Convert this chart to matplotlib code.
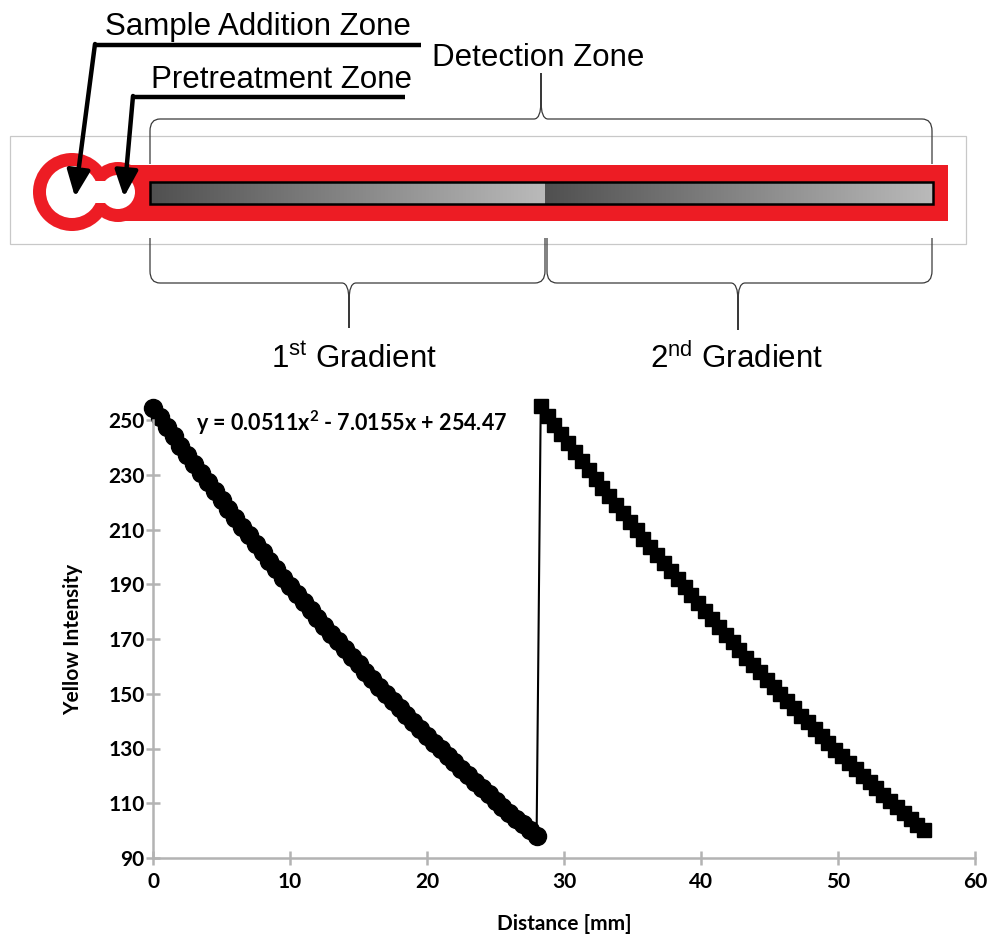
import numpy as np
import matplotlib.pyplot as plt
from matplotlib.patches import Rectangle, Circle, PathPatch
from matplotlib.path import Path
from matplotlib.colors import LinearSegmentedColormap

plt.rcParams['mathtext.fontset'] = 'custom'
plt.rcParams['mathtext.rm'] = 'Liberation Sans'
plt.rcParams['mathtext.bf'] = 'Lato:bold'

# Yellow intensity along the strip, sampled every 0.5 mm
dist_1 = np.arange(0, 28.01, 0.5)
yellow_1 = [254.5, 251.0, 247.5, 244.1, 240.6, 237.3, 233.9, 230.5, 227.2, 223.9,
            220.7, 217.4, 214.2, 211.0, 207.9, 204.7, 201.6, 198.5, 195.5, 192.4,
            189.4, 186.4, 183.5, 180.6, 177.6, 174.8, 171.9, 169.1, 166.3, 163.5,
            160.7, 158.0, 155.3, 152.6, 150.0, 147.4, 144.8, 142.2, 139.6, 137.1,
            134.6, 132.1, 129.7, 127.3, 124.9, 122.5, 120.2, 117.8, 115.5, 113.3,
            111.0, 108.8, 106.6, 104.4, 102.3, 100.2, 98.1]
dist_2 = np.arange(28.3, 56.31, 0.5)
yellow_2 = [255.0, 251.6, 248.2, 244.9, 241.5, 238.3, 235.0, 231.7, 228.5, 225.3,
            222.2, 219.0, 215.9, 212.8, 209.8, 206.7, 203.7, 200.7, 197.8, 194.8,
            191.9, 188.9, 186.0, 183.1, 180.1, 177.3, 174.4, 171.6, 168.8, 166.0,
            163.2, 160.5, 157.8, 155.1, 152.5, 149.9, 147.3, 144.7, 142.0, 139.5,
            137.0, 134.5, 132.0, 129.6, 127.2, 124.8, 122.4, 120.0, 117.7, 115.5,
            113.1, 110.9, 108.7, 106.4, 104.3, 102.2, 100.1]
fit_label = r'y = 0.0511x$^{\mathbf{2}}$ - 7.0155x + 254.47'
x_ticks = [0, 10, 20, 30, 40, 50, 60]
y_ticks = [90, 110, 130, 150, 170, 190, 210, 230, 250]

fig = plt.figure(figsize=(9.9, 9.41), dpi=100)

# ---------- strip diagram (pixel-like coordinates) ----------
ax_d = fig.add_axes([0, 0, 1, 1])
ax_d.axis('off')

red = '#ed1c24'
ax_d.add_patch(Rectangle((10, 136), 956, 108, fill=False, ec='#c8c8c8', lw=0.9))
ax_d.add_patch(Circle((72, 192), 39, color=red, lw=0))
ax_d.add_patch(Circle((118, 192), 30, color=red, lw=0))
ax_d.add_patch(Rectangle((112, 165), 836, 56, color=red, lw=0))
ax_d.add_patch(Circle((72, 192), 26, color='white', lw=0))
ax_d.add_patch(Circle((118, 192), 17, color='white', lw=0))
ax_d.add_patch(Rectangle((88, 181), 24, 22, color='white', lw=0))

grey_ramp = LinearSegmentedColormap.from_list('ramp', ['#505050', '#bababa'])
ramp = np.linspace(0, 1, 256).reshape(1, -1)
ax_d.imshow(ramp, cmap=grey_ramp, extent=(150, 545, 204, 182), aspect='auto', zorder=3)
ax_d.imshow(ramp, cmap=grey_ramp, extent=(545, 933, 204, 182), aspect='auto', zorder=3)
ax_d.add_patch(Rectangle((150, 182), 783, 22, fill=False, ec='black', lw=1.8, zorder=4))
ax_d.set_xlim(0, 990)
ax_d.set_ylim(941, 0)


def brace(x0, x1, y_line, y_end, x_tip, y_tip):
    s = np.sign(y_end - y_line)
    t = -s
    verts = [(x0, y_end), (x0, y_line + s * 12), (x0, y_line), (x0 + 10, y_line),
             (x_tip - 7, y_line), (x_tip, y_line), (x_tip, y_line + t * 18),
             (x_tip, y_tip), (x_tip, y_line + t * 18), (x_tip, y_line), (x_tip + 7, y_line),
             (x1 - 10, y_line), (x1, y_line), (x1, y_line + s * 12), (x1, y_end)]
    codes = [Path.MOVETO, Path.LINETO, Path.CURVE3, Path.CURVE3,
             Path.LINETO, Path.CURVE3, Path.CURVE3,
             Path.LINETO, Path.LINETO, Path.CURVE3, Path.CURVE3,
             Path.LINETO, Path.CURVE3, Path.CURVE3, Path.LINETO]
    ax_d.add_patch(PathPatch(Path(verts, codes), fill=False, ec='#3a3a3a', lw=0.9))


brace(150, 932, 119, 164, 541, 73)
brace(150, 545, 283, 238, 349, 328)
brace(547, 932, 283, 238, 738, 330)

label_font = dict(family='Liberation Sans', fontsize=22.5, color='black')
ax_d.text(105, 35, 'Sample Addition Zone', ha='left', va='baseline', **label_font)
ax_d.text(151, 88, 'Pretreatment Zone', ha='left', va='baseline', **label_font)
ax_d.text(432, 66, 'Detection Zone', ha='left', va='baseline', **label_font)
ax_d.text(354, 368, r'1$^{\mathrm{st}}$ Gradient', ha='center', va='baseline', **label_font)
ax_d.text(737, 368, r'2$^{\mathrm{nd}}$ Gradient', ha='center', va='baseline', **label_font)

ax_d.plot([95, 421], [45, 45], color='black', lw=3.2, solid_capstyle='butt')
ax_d.plot([133, 405], [97, 97], color='black', lw=3.2, solid_capstyle='butt')
arrow = dict(arrowstyle='-|>,head_length=1.6,head_width=0.7', lw=3.2, color='black',
             shrinkA=0, shrinkB=0)
ax_d.annotate('', xy=(75, 197), xytext=(95, 44), arrowprops=arrow)
ax_d.annotate('', xy=(124, 197), xytext=(133, 96), arrowprops=arrow)

# ---------- intensity profile ----------
ax = fig.add_axes([153 / 990, 83 / 941, 822 / 990, 438 / 941])
ax.plot([dist_1[-1], dist_2[0]], [yellow_1[-1], yellow_2[0]], color='black', lw=1.5,
        clip_on=False)
ax.plot(dist_1, yellow_1, 'o', color='black', ms=13, clip_on=False)
ax.plot(dist_2, yellow_2, 's', color='black', ms=10.5, clip_on=False)

ax.set_xlim(0, 60)
ax.set_ylim(90, 250)
ax.set_xticks(x_ticks)
ax.set_yticks(y_ticks)
for side in ['top', 'right']:
    ax.spines[side].set_visible(False)
for side in ['left', 'bottom']:
    ax.spines[side].set_color('#b3b3b3')
    ax.spines[side].set_linewidth(1.8)
ax.tick_params(direction='inout', length=10, width=1.8, color='#b3b3b3',
               labelsize=15)
ax.tick_params(axis='y', pad=1)
ax.tick_params(axis='x', pad=5)
for lab in ax.get_xticklabels() + ax.get_yticklabels():
    lab.set_family('Lato')
    lab.set_fontweight('bold')
ax.set_xlabel('Distance [mm]', family='Lato', fontweight='bold', fontsize=15, labelpad=16)
ax.set_ylabel('Yellow Intensity', family='Lato', fontweight='bold', fontsize=15, labelpad=18)
ax.text(0.052, 0.975, fit_label, transform=ax.transAxes, family='Lato',
        fontweight='bold', fontsize=15.5, ha='left', va='baseline')

fig.savefig('out.png', dpi=100)
